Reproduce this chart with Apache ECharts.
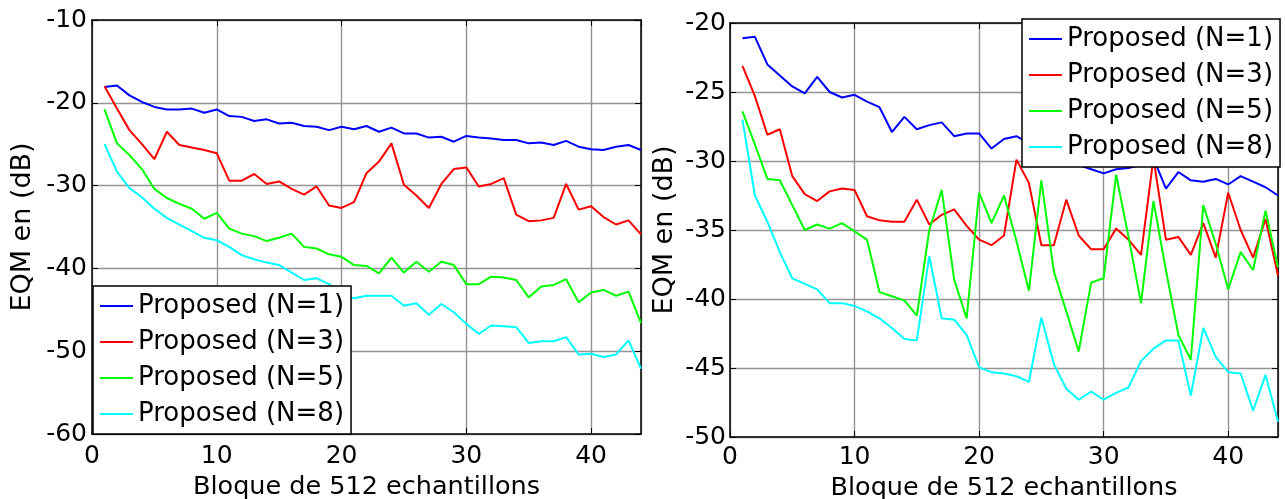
<!DOCTYPE html>
<html>
<head>
<meta charset="utf-8">
<script src="https://cdn.jsdelivr.net/npm/echarts@6/dist/echarts.min.js"></script>
<style>
  html, body { margin: 0; padding: 0; background: #fff; }
  #chart { width: 1285px; height: 499px; }
</style>
</head>
<body>
<div id="chart"></div>
<script>
// Block index (1..44) shared by both panels
const blocks = Array.from({ length: 44 }, (_, i) => i + 1);

const seriesNames = ['Proposed (N=1)', 'Proposed (N=3)', 'Proposed (N=5)', 'Proposed (N=8)'];
const seriesColors = ['#0000ff', '#ff0000', '#00ff00', '#00ffff'];

// Left panel: EQM (dB) per block
const leftN1 = [-18.1,-17.9,-19.1,-19.9,-20.5,-20.8,-20.8,-20.7,-21.2,-20.8,
                -21.6,-21.7,-22.2,-22.0,-22.5,-22.4,-22.8,-22.9,-23.3,-22.9,
                -23.2,-22.8,-23.5,-23.0,-23.7,-23.7,-24.2,-24.1,-24.7,-24.0,
                -24.2,-24.3,-24.5,-24.5,-24.9,-24.8,-25.1,-24.6,-25.3,-25.6,
                -25.7,-25.3,-25.1,-25.7];
const leftN3 = [-18.0,-20.7,-23.3,-25.0,-26.8,-23.5,-25.1,-25.4,-25.7,-26.1,
                -29.4,-29.4,-28.6,-29.8,-29.5,-30.4,-31.1,-30.1,-32.4,-32.7,
                -32.0,-28.5,-27.1,-24.9,-29.9,-31.2,-32.7,-29.8,-28.0,-27.8,
                -30.1,-29.8,-29.1,-33.5,-34.3,-34.2,-33.9,-29.8,-32.9,-32.5,
                -33.8,-34.7,-34.2,-35.9];
const leftN5 = [-20.8,-24.9,-26.3,-28.0,-30.4,-31.5,-32.2,-32.8,-34.0,-33.3,
                -35.2,-35.8,-36.1,-36.7,-36.3,-35.8,-37.4,-37.6,-38.3,-38.6,
                -39.6,-39.7,-40.6,-38.7,-40.5,-39.2,-40.4,-39.2,-39.6,-41.9,
                -41.9,-41.0,-41.1,-41.4,-43.5,-42.2,-42.0,-41.3,-44.1,-42.9,
                -42.6,-43.3,-42.8,-46.6];
const leftN8 = [-25.0,-28.3,-30.3,-31.4,-32.8,-33.9,-34.7,-35.5,-36.3,-36.6,
                -37.4,-38.4,-38.9,-39.3,-39.6,-40.5,-41.4,-41.2,-41.9,-43.2,
                -43.6,-43.3,-43.3,-43.3,-44.5,-44.2,-45.6,-44.3,-45.3,-46.7,
                -47.9,-46.9,-47.0,-47.1,-49.0,-48.8,-48.8,-48.3,-50.4,-50.3,
                -50.7,-50.4,-48.7,-52.1];

// Right panel: EQM (dB) per block
const rightN1 = [-21.1,-21.0,-23.0,-23.8,-24.6,-25.1,-23.9,-25.0,-25.4,-25.2,
                 -25.7,-26.1,-27.9,-26.8,-27.7,-27.4,-27.2,-28.2,-28.0,-28.0,
                 -29.1,-28.4,-28.2,-28.7,-29.3,-29.0,-29.9,-30.3,-30.6,-30.9,
                 -30.6,-30.5,-30.3,-29.8,-32.0,-30.8,-31.4,-31.5,-31.3,-31.7,
                 -31.1,-31.5,-31.9,-32.5];
const rightN3 = [-23.1,-25.3,-28.1,-27.7,-31.1,-32.4,-32.9,-32.2,-32.0,-32.1,
                 -34.0,-34.3,-34.4,-34.4,-32.8,-34.6,-33.9,-33.5,-34.7,-35.7,
                 -36.1,-35.4,-29.9,-31.6,-36.1,-36.1,-32.8,-35.4,-36.4,-36.4,
                 -34.9,-35.7,-36.8,-29.8,-35.7,-35.5,-36.8,-34.5,-37.0,-32.3,
                 -35.0,-37.0,-34.2,-38.3];
const rightN5 = [-26.4,-28.8,-31.3,-31.4,-33.2,-35.0,-34.6,-34.9,-34.5,-35.1,
                 -35.7,-39.5,-39.8,-40.1,-41.2,-35.0,-32.1,-38.6,-41.4,-32.3,
                 -34.5,-32.5,-35.8,-39.4,-31.4,-38.0,-40.9,-43.8,-38.8,-38.5,
                 -31.0,-35.5,-40.3,-32.9,-37.9,-42.6,-44.4,-33.2,-36.0,-39.3,
                 -36.6,-37.9,-33.6,-37.7];
const rightN8 = [-27.0,-32.5,-34.4,-36.6,-38.5,-38.9,-39.3,-40.3,-40.3,-40.5,
                 -40.9,-41.4,-42.1,-42.9,-43.0,-36.9,-41.4,-41.5,-42.6,-44.95,
                 -45.3,-45.4,-45.6,-46.0,-41.35,-44.7,-46.5,-47.3,-46.7,-47.3,
                 -46.8,-46.4,-44.5,-43.6,-43.0,-43.0,-47.0,-42.1,-44.2,-45.3,
                 -45.4,-48.1,-45.5,-48.9];

// Axis ranges and tick steps
const xRange = { min: 0, max: 44, step: 10 };
const leftY = { min: -60, max: -10, step: 10 };
const rightY = { min: -50, max: -20, step: 5 };

const xTitle = 'Bloque de 512 echantillons';
const yTitle = 'EQM en (dB)';

const FONT = 'DejaVu Sans';
const gridColor = '#949494';

function pair(values) {
  return blocks.map((b, i) => [b, values[i]]);
}

function xAxes(gridIndex, nameGap, labelMargin) {
  const base = {
    type: 'value', gridIndex: gridIndex,
    min: xRange.min, max: xRange.max, interval: xRange.step,
    axisLine: { show: true, onZero: false, lineStyle: { color: '#000', width: 1.5 } },
    axisTick: { show: true, inside: true, length: 6, lineStyle: { color: '#000', width: 1 } }
  };
  return [
    Object.assign({}, base, {
      position: 'bottom',
      axisLabel: {
        color: '#000', fontSize: 25, fontFamily: FONT, margin: labelMargin,
        showMaxLabel: false,
        formatter: v => (v % xRange.step === 0 ? String(v) : '')
      },
      splitLine: { show: true, lineStyle: { color: gridColor, width: 1.4 } },
      name: xTitle, nameLocation: 'middle', nameGap: nameGap,
      nameTextStyle: { color: '#000', fontSize: 25.5, fontFamily: FONT }
    }),
    Object.assign({}, base, {
      position: 'top',
      axisLabel: { show: false },
      splitLine: { show: false }
    })
  ];
}

function yAxes(gridIndex, range, nameGap, labelMargin) {
  const base = {
    type: 'value', gridIndex: gridIndex,
    min: range.min, max: range.max, interval: range.step,
    axisLine: { show: true, onZero: false, lineStyle: { color: '#000', width: 1.5 } },
    axisTick: { show: true, inside: true, length: 6, lineStyle: { color: '#000', width: 1 } }
  };
  return [
    Object.assign({}, base, {
      position: 'left',
      axisLabel: { color: '#000', fontSize: 25, fontFamily: FONT, margin: labelMargin },
      splitLine: { show: true, lineStyle: { color: gridColor, width: 1.4 } },
      name: yTitle, nameLocation: 'middle', nameGap: nameGap, nameRotate: 90,
      nameTextStyle: { color: '#000', fontSize: 27, fontFamily: FONT }
    }),
    Object.assign({}, base, {
      position: 'right',
      axisLabel: { show: false },
      splitLine: { show: false }
    })
  ];
}

function lines(datasets, xIndex, yIndex) {
  return datasets.map((d, i) => ({
    name: seriesNames[i],
    type: 'line',
    xAxisIndex: xIndex, yAxisIndex: yIndex,
    data: pair(d),
    showSymbol: false,
    symbol: 'none',
    lineStyle: { color: seriesColors[i], width: 2 },
    itemStyle: { color: seriesColors[i] },
    animation: false
  }));
}

function legendBox(left, top) {
  return {
    data: seriesNames,
    orient: 'vertical',
    left: left, top: top,
    icon: 'rect',
    itemWidth: 33, itemHeight: 2,
    itemGap: 6,
    padding: [5, 7, 5, 7],
    backgroundColor: '#fff',
    borderColor: '#000', borderWidth: 1.5, borderRadius: 0,
    selectedMode: false,
    textStyle: { color: '#000', fontSize: 26, lineHeight: 30, fontFamily: FONT }
  };
}

const chart = echarts.init(document.getElementById('chart'), null, { renderer: 'canvas' });

// Fixed plot boxes; the x titles run partly past the bottom edge
chart.setOption({
  backgroundColor: '#fff',
  animation: false,
  color: seriesColors,
  grid: [
    { left: 92, top: 20, width: 549, height: 414, show: false,
      containLabel: false, outerBoundsMode: 'none' },
    { left: 730, top: 23, width: 548, height: 414, show: false,
      containLabel: false, outerBoundsMode: 'none' }
  ],
  xAxis: [].concat(xAxes(0, 38, 10), xAxes(1, 34, 8)),
  yAxis: [].concat(yAxes(0, leftY, 56, 5), yAxes(1, rightY, 52, 4)),
  legend: [legendBox(93, 286), legendBox(1022, 19)],
  series: [].concat(
    lines([leftN1, leftN3, leftN5, leftN8], 0, 0),
    lines([rightN1, rightN3, rightN5, rightN8], 2, 2)
  )
});
</script>
</body>
</html>
